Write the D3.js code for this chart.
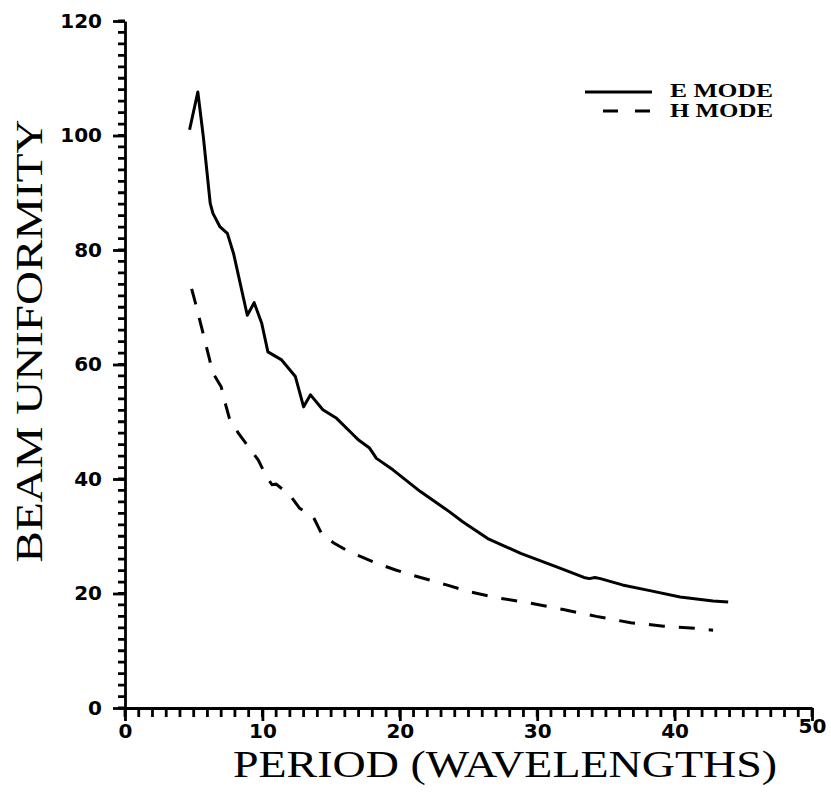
<!DOCTYPE html>
<html lang="en">
  <head>
    <title>Beam uniformity vs period</title>
    <script src="https://d3js.org/d3.v7.min.js"></script>
    <style>
      body { margin: 0; background: #fff; }
      .tick text { font-family: "DejaVu Sans", sans-serif; font-weight: bold; font-size: 20px; fill: #000; }
      .title { font-family: "Liberation Serif", serif; font-size: 38px; fill: #000; }
      .legend text { font-family: "Liberation Serif", serif; font-weight: bold; font-size: 18px; fill: #000; }
    </style>
  </head>
  <body>
    <div id="chart"></div>
    <script>
      // E mode curve
      var ePeriod = [4.7, 5.3, 5.7, 6.2, 6.4, 6.9, 7.45, 7.9, 8.9, 9.4, 9.95, 10.4, 11.4, 12.4, 13.0, 13.5, 14.4, 15.4, 16.5, 17.0, 17.8, 18.3, 19.5, 21.5, 23.6, 24.6, 26.4, 28.8, 31.7, 33.4, 33.8, 34.2, 34.6, 36.2, 38.2, 40.4, 42.8, 43.9];
      var eUniformity = [101, 107.6, 99.8, 88.2, 86.4, 84.1, 82.9, 79.4, 68.6, 70.8, 67.2, 62.2, 60.8, 57.9, 52.6, 54.7, 52.1, 50.6, 48.0, 46.8, 45.4, 43.6, 41.6, 37.8, 34.3, 32.5, 29.6, 27.0, 24.4, 22.8, 22.6, 22.8, 22.6, 21.5, 20.5, 19.4, 18.7, 18.5];

      // H mode curve
      var hPeriod = [4.85, 5.2, 5.5, 5.8, 6.1, 6.4, 7.0, 7.3, 7.6, 8.25, 9.0, 9.7, 10.3, 10.7, 11.0, 12.0, 12.7, 13.7, 14.3, 15.2, 16.3, 17.3, 18.4, 19.7, 20.9, 22.1, 23.4, 25.1, 27.0, 29.5, 31.9, 34.3, 36.8, 39.2, 41.6, 42.8];
      var hUniformity = [73.2, 70.1, 67.2, 64.3, 61.4, 58.5, 56.1, 53.2, 50.6, 48.0, 45.6, 43.3, 40.4, 39.0, 39.1, 37.2, 34.9, 33.4, 30.5, 28.8, 27.3, 26.3, 25.2, 24.1, 23.2, 22.4, 21.5, 20.3, 19.3, 18.3, 17.2, 16.0, 14.9, 14.3, 13.9, 13.6];

      var xTicks = [0, 10, 20, 30, 40, 50];
      var yTicks = [0, 20, 40, 60, 80, 100, 120];
      var xMinor = d3.range(0, 51, 1);
      var yMinor = d3.range(0, 121, 2);
      var seriesNames = ["E MODE", "H MODE"];

      var width = 831, height = 794;

      var svg = d3.select("#chart").append("svg")
        .attr("width", width)
        .attr("height", height);

      var x = d3.scaleLinear().domain([0, 50]).range([125, 812]);
      var y = d3.scaleLinear().domain([0, 120]).range([708, 21]);

      // minor ticks, one path per axis
      var xMinorPath = xMinor.map(function (d) {
        return "M" + x(d) + "," + y(0) + "v9";
      }).join("");
      var yMinorPath = yMinor.map(function (d) {
        return "M" + x(0) + "," + y(d) + "h-7";
      }).join("");
      svg.append("path").attr("d", xMinorPath)
        .attr("stroke", "#000").attr("stroke-width", 2.8).attr("fill", "none");
      svg.append("path").attr("d", yMinorPath)
        .attr("stroke", "#000").attr("stroke-width", 2.8).attr("fill", "none");

      var xAxis = svg.append("g")
        .attr("transform", "translate(0," + y(0) + ")")
        .call(d3.axisBottom(x).tickValues(xTicks).tickSize(13).tickSizeOuter(0).tickPadding(3));
      xAxis.select(".domain").attr("stroke-width", 2.8);
      xAxis.selectAll(".tick line").attr("stroke-width", 2.8);
      xAxis.selectAll(".tick text").filter(function (d) { return d === 50; })
        .attr("dy", "0.45em");

      var yAxis = svg.append("g")
        .attr("transform", "translate(" + x(0) + ",0)")
        .call(d3.axisLeft(y).tickValues(yTicks).tickSize(12).tickSizeOuter(0).tickPadding(11));
      yAxis.select(".domain").attr("stroke-width", 2.8);
      yAxis.selectAll(".tick line").attr("stroke-width", 2.8);

      var line = d3.line()
        .x(function (d) { return x(d[0]); })
        .y(function (d) { return y(d[1]); });

      svg.append("path")
        .datum(d3.zip(ePeriod, eUniformity))
        .attr("d", line)
        .attr("fill", "none")
        .attr("stroke", "#000")
        .attr("stroke-width", 3)
        .attr("stroke-linejoin", "round");

      svg.append("path")
        .datum(d3.zip(hPeriod, hUniformity))
        .attr("d", line)
        .attr("fill", "none")
        .attr("stroke", "#000")
        .attr("stroke-width", 3)
        .attr("stroke-dasharray", "16,14");

      // axis titles
      svg.append("text")
        .attr("class", "title")
        .attr("x", 505)
        .attr("y", 777)
        .attr("text-anchor", "middle")
        .attr("textLength", 544)
        .attr("lengthAdjust", "spacingAndGlyphs")
        .text("PERIOD (WAVELENGTHS)");

      svg.append("text")
        .attr("class", "title")
        .attr("transform", "translate(42,341) rotate(-90)")
        .attr("text-anchor", "middle")
        .attr("textLength", 443)
        .attr("lengthAdjust", "spacingAndGlyphs")
        .text("BEAM UNIFORMITY");

      // legend
      var legend = svg.append("g").attr("class", "legend");
      legend.append("line")
        .attr("x1", 585).attr("x2", 652).attr("y1", 92).attr("y2", 92)
        .attr("stroke", "#000").attr("stroke-width", 3);
      legend.append("line")
        .attr("x1", 603).attr("x2", 650).attr("y1", 111).attr("y2", 111)
        .attr("stroke", "#000").attr("stroke-width", 3)
        .attr("stroke-dasharray", "15,17");
      legend.selectAll("text")
        .data(seriesNames)
        .enter()
        .append("text")
        .attr("x", 670)
        .attr("y", function (d, i) { return 97 + i * 20; })
        .attr("textLength", 103)
        .attr("lengthAdjust", "spacingAndGlyphs")
        .text(function (d) { return d; });
    </script>
  </body>
</html>
